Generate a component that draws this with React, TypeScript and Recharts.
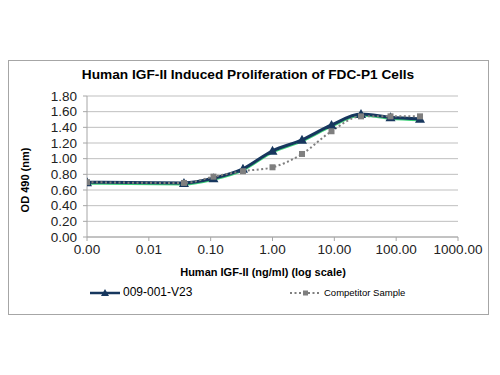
import React from "react";
import { LineChart, Line, XAxis, YAxis, CartesianGrid } from "recharts";

const concentrations = [0.001, 0.037, 0.111, 0.333, 1, 3, 9, 27, 81, 243];
const mainOD = [0.7, 0.69, 0.75, 0.87, 1.1, 1.24, 1.43, 1.57, 1.53, 1.51];
const competitorOD = [0.7, 0.69, 0.77, 0.84, 0.89, 1.06, 1.35, 1.54, 1.54, 1.54];
const xTicks = [0.001, 0.01, 0.1, 1, 10, 100, 1000];
const yTicks = [0, 0.2, 0.4, 0.6, 0.8, 1.0, 1.2, 1.4, 1.6, 1.8];
const seriesNames = ["009-001-V23", "Competitor Sample"];

const data = concentrations.map((c, i) => ({ x: c, main: mainOD[i], comp: competitorOD[i] }));

const NAVY = "#17375e";
const GRAY = "#7f7f7f";
const FONT = "'Liberation Sans', Arial, sans-serif";

const Triangle = (props: any) => {
  const { cx, cy } = props;
  if (cx == null || cy == null) return null;
  return <path d={`M${cx},${cy - 5} L${cx + 5},${cy + 4} L${cx - 5},${cy + 4} Z`} fill={NAVY} />;
};

const Square = (props: any) => {
  const { cx, cy } = props;
  if (cx == null || cy == null) return null;
  return <rect x={cx - 3} y={cy - 3} width={6} height={6} fill={GRAY} />;
};

const fmtX = (v: number) => (v < 0.005 ? "0.00" : v.toFixed(2));

export default function App() {
  return (
    <div style={{ position: "relative", width: 500, height: 375, marginLeft: -8, marginTop: -8, background: "#fff", fontFamily: FONT }}>
      <style>{`.main-line { filter: drop-shadow(0px 1.5px 0px #3fd27a); }`}</style>
      <div style={{ position: "absolute", left: 8, top: 60, width: 479, height: 253, border: "1px solid #a6a6a6" }} />
      <div style={{ position: "absolute", left: 248, top: 74, transform: "translate(-50%,-50%)", whiteSpace: "nowrap", fontWeight: "bold", fontSize: 13.7, color: "#000" }}>
        Human IGF-II Induced Proliferation of FDC-P1 Cells
      </div>
      <div style={{ position: "absolute", left: 0, top: 0 }}>
        <LineChart width={500} height={375} data={data} margin={{ top: 96, right: 42, left: 27, bottom: 108 }}>
          <CartesianGrid vertical={false} stroke="#bfbfbf" />
          <XAxis
            dataKey="x"
            type="number"
            scale="log"
            domain={[0.001, 1000]}
            ticks={xTicks}
            tickFormatter={fmtX}
            allowDataOverflow
            height={30}
            tickSize={4}
            tickMargin={3}
            stroke="#a6a6a6"
            tick={{ fill: "#222", fontSize: 13.5, fontFamily: FONT }}
            interval={0}
          />
          <YAxis
            domain={[0, 1.8]}
            ticks={yTicks}
            tickFormatter={(v: number) => v.toFixed(2)}
            width={60}
            tickSize={4}
            tickMargin={6}
            stroke="#a6a6a6"
            tick={{ fill: "#222", fontSize: 13.5, fontFamily: FONT }}
            interval={0}
          />
          <Line
            className="main-line"
            dataKey="main"
            type="monotone"
            stroke={NAVY}
            strokeWidth={3}
            dot={<Triangle />}
            activeDot={false}
            isAnimationActive={false}
          />
          <Line
            dataKey="comp"
            type="monotone"
            stroke={GRAY}
            strokeWidth={2}
            strokeDasharray="2 2.5"
            dot={<Square />}
            activeDot={false}
            isAnimationActive={false}
          />
        </LineChart>
      </div>
      <div style={{ position: "absolute", left: 25, top: 180, transform: "translate(-50%,-50%) rotate(-90deg)", whiteSpace: "nowrap", fontWeight: "bold", fontSize: 11, color: "#000" }}>
        OD 490 (nm)
      </div>
      <div style={{ position: "absolute", left: 263, top: 272, transform: "translate(-50%,-50%)", whiteSpace: "nowrap", fontWeight: "bold", fontSize: 11, color: "#000" }}>
        Human IGF-II (ng/ml) (log scale)
      </div>
      <div style={{ position: "absolute", left: 90, top: 286 }}>
        <svg width={32} height={14} style={{ position: "absolute", left: 0, top: 0 }}>
          <line x1={0} y1={7} x2={30} y2={7} stroke={NAVY} strokeWidth={2.5} />
          <path d="M15,3 L19,10 L11,10 Z" fill={NAVY} />
        </svg>
        <div style={{ position: "absolute", left: 33, top: -1, fontSize: 12, color: "#000", whiteSpace: "nowrap" }}>{seriesNames[0]}</div>
      </div>
      <div style={{ position: "absolute", left: 290, top: 286 }}>
        <svg width={32} height={14} style={{ position: "absolute", left: 0, top: 0 }}>
          <line x1={0} y1={7} x2={31} y2={7} stroke={GRAY} strokeWidth={2} strokeDasharray="2 2.5" />
          <rect x={13} y={4.5} width={5} height={5} fill={GRAY} />
        </svg>
        <div style={{ position: "absolute", left: 34, top: 1, fontSize: 9.5, color: "#000", whiteSpace: "nowrap" }}>{seriesNames[1]}</div>
      </div>
    </div>
  );
}
